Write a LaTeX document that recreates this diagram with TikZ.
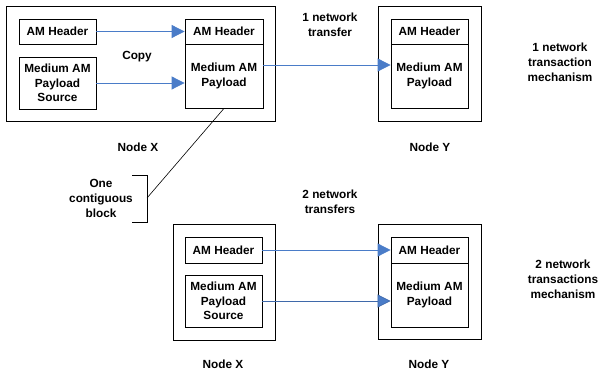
\documentclass[tikz,border=0pt]{standalone}
\usepackage{fontspec}
\setmainfont{Liberation Sans}
\usetikzlibrary{arrows.meta}
\definecolor{arrblue}{RGB}{74,124,200}
\begin{document}
\begin{tikzpicture}[x=1pt,y=-1pt,
  box/.style={draw=black,line width=0.8pt,rectangle,inner sep=0pt,align=center,
    font=\fontsize{11.8}{14.3}\selectfont\bfseries},
  lbl/.style={inner sep=0pt,align=center,font=\fontsize{11.8}{15}\selectfont\bfseries},
  arr/.style={draw=arrblue,line width=0.8pt,-{Triangle[length=13pt,width=13pt,fill=arrblue]}},
  arrthin/.style={draw=arrblue!85!black,line width=0.7pt,-{Triangle[length=13pt,width=13pt,fill=arrblue]}}]
\useasboundingbox (0,0) rectangle (598,374);
% ---------- top ----------
\node[box,minimum width=269pt,minimum height=115pt] (xout1) at (140.5,63.5) {};
\node[box,minimum width=77pt,minimum height=25pt] (hs1) at (57.5,31.5) {AM Header};
\node[box,minimum width=77pt,minimum height=52pt] (ps1) at (57.5,83) {Medium AM\\Payload\\Source};
\node[box,minimum width=78pt,minimum height=25pt] (ht1) at (224,31.5) {AM Header};
\node[box,minimum width=78pt,minimum height=64pt] (pt1) at (224,76) {Medium AM\\Payload};
\node[box,minimum width=103pt,minimum height=115pt] (yout1) at (429.5,63.5) {};
\node[box,minimum width=77pt,minimum height=25pt] (hy1) at (429.5,31.5) {AM Header};
\node[box,minimum width=77pt,minimum height=64pt] (py1) at (429.5,76) {Medium AM\\Payload};
\node[lbl] (copy) at (137,57) {Copy};
\node[lbl] (nx1) at (138,147) {Node X};
\node[lbl] (ny1) at (430,147) {Node Y};
\node[lbl] (t1) at (330,25) {1 network\\transfer};
\node[lbl] (m1) at (560,62) {1 network\\transaction\\mechanism};
\draw[arr] (hs1.east) -- (ht1.west);
\draw[arr] (ps1.east) -- (ps1.east -| pt1.west);
\draw[arr] ([yshift=11pt]pt1.east) -- ([yshift=11pt]pt1.east -| py1.west);
% ---------- bracket ----------
\coordinate (brk) at (147,198);
\draw[line width=0.8pt] (132,175) -- (147,175) -- (147,222) -- (132,222);
\node[lbl] (cb) at (101,198) {One\\contiguous\\block};
\draw[line width=0.6pt] (pt1.south) -- (brk);
% ---------- bottom ----------
\node[box,minimum width=102pt,minimum height=116pt] (xout2) at (224,282) {};
\node[box,minimum width=77pt,minimum height=26pt] (hs2) at (223.5,250) {AM Header};
\node[box,minimum width=77pt,minimum height=52pt] (ps2) at (223.5,301) {Medium AM\\Payload\\Source};
\node[box,minimum width=103pt,minimum height=115pt] (yout2) at (429.5,281.5) {};
\node[box,minimum width=77pt,minimum height=26pt] (hy2) at (429.5,250) {AM Header};
\node[box,minimum width=77pt,minimum height=64pt] (py2) at (429.5,295) {Medium AM\\Payload};
\node[lbl] (t2) at (330,202) {2 network\\transfers};
\node[lbl] (m2) at (563,279) {2 network\\transactions\\mechanism};
\node[lbl] (nx2) at (223,364) {Node X};
\node[lbl] (ny2) at (429,364) {Node Y};
\draw[arr] (hs2.east) -- (hy2.west);
\draw[arrthin] (ps2.east) -- (ps2.east -| py2.west);
\end{tikzpicture}
\end{document}
